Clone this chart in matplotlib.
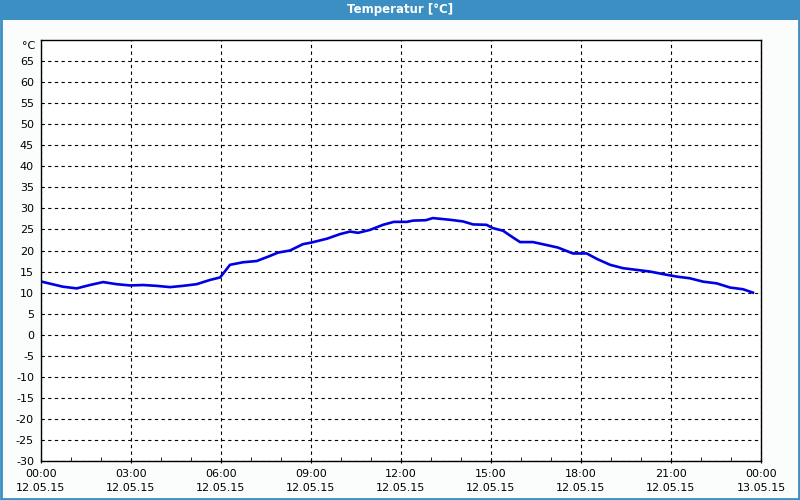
import matplotlib
matplotlib.use("Agg")
import matplotlib.pyplot as plt
from matplotlib.patches import Rectangle

# temperature readings (hours since 12.05.15 00:00, degC)
hours = [0.02, 0.73, 1.19, 1.63, 2.07, 2.52, 2.97, 3.40, 3.86, 4.30, 4.73, 5.19,
         5.63, 5.97, 6.30, 6.73, 7.19, 7.63, 7.90, 8.30, 8.73, 9.02, 9.53, 9.97,
         10.30, 10.57, 10.97, 11.40, 11.76, 12.20, 12.40, 12.83, 13.06, 13.63,
         14.07, 14.40, 14.85, 15.07, 15.40, 15.73, 15.97, 16.40, 16.85, 17.23,
         17.73, 18.19, 18.53, 18.97, 19.40, 19.85, 20.30, 20.73, 21.19, 21.63,
         22.07, 22.52, 22.97, 23.40, 23.73]
temps = [12.6, 11.4, 11.0, 11.8, 12.5, 12.0, 11.7, 11.8, 11.6, 11.3, 11.6, 12.0,
         13.0, 13.6, 16.6, 17.2, 17.5, 18.7, 19.5, 20.0, 21.5, 21.9, 22.8, 23.9,
         24.5, 24.2, 24.9, 26.1, 26.8, 26.8, 27.1, 27.2, 27.7, 27.3, 26.9, 26.2,
         26.1, 25.3, 24.7, 23.1, 22.0, 22.0, 21.3, 20.7, 19.3, 19.3, 18.0, 16.6,
         15.8, 15.4, 15.0, 14.4, 13.8, 13.4, 12.6, 12.2, 11.2, 10.8, 10.0]

x_ticks = [0, 3, 6, 9, 12, 15, 18, 21, 24]
x_labels = ["00:00\n12.05.15", "03:00\n12.05.15", "06:00\n12.05.15",
            "09:00\n12.05.15", "12:00\n12.05.15", "15:00\n12.05.15",
            "18:00\n12.05.15", "21:00\n12.05.15", "00:00\n13.05.15"]
y_ticks = list(range(-30, 70, 5))

blue = "#3b8fc3"

fig = plt.figure(figsize=(8, 5), dpi=100)
fig.patch.set_facecolor("#fbfdfc")

# title bar and frame
fig.patches.append(Rectangle((0, 0.96), 1, 0.04, transform=fig.transFigure,
                             facecolor=blue, edgecolor="none", zorder=0))
fig.patches.append(Rectangle((0.001, 0.002), 0.998, 0.996, transform=fig.transFigure,
                             facecolor="none", edgecolor=blue, linewidth=2, zorder=5))
fig.text(0.5, 0.98, "Temperatur [°C]", color="white", fontsize=8.5,
         fontweight="bold", ha="center", va="center")

ax = fig.add_axes([41 / 800, 39 / 500, 720 / 800, 421 / 500])
ax.set_facecolor("white")
ax.plot(hours, temps, color="#0000e6", linewidth=1.9, solid_joinstyle="round")

ax.set_xlim(0, 24)
ax.set_ylim(-30, 70)
ax.set_xticks(x_ticks)
ax.set_xticklabels(x_labels, fontsize=8, linespacing=1.6)
ax.set_xticks(range(0, 25), minor=True)
ax.set_yticks(y_ticks)
ax.set_yticklabels([str(v) for v in y_ticks], fontsize=8)
ax.tick_params(axis="y", length=0, pad=5)
ax.tick_params(axis="x", which="major", length=3, direction="inout", pad=4)
ax.tick_params(axis="x", which="minor", length=3, direction="in")
ax.text(-0.008, 0.986, "°C", transform=ax.transAxes, fontsize=8,
        ha="right", va="center")

ax.grid(True, which="major", color="black", linestyle=(0, (3, 3)), linewidth=0.8)
for s in ax.spines.values():
    s.set_linewidth(1)
    s.set_color("black")

fig.savefig("out.png", dpi=100, facecolor=fig.get_facecolor())
